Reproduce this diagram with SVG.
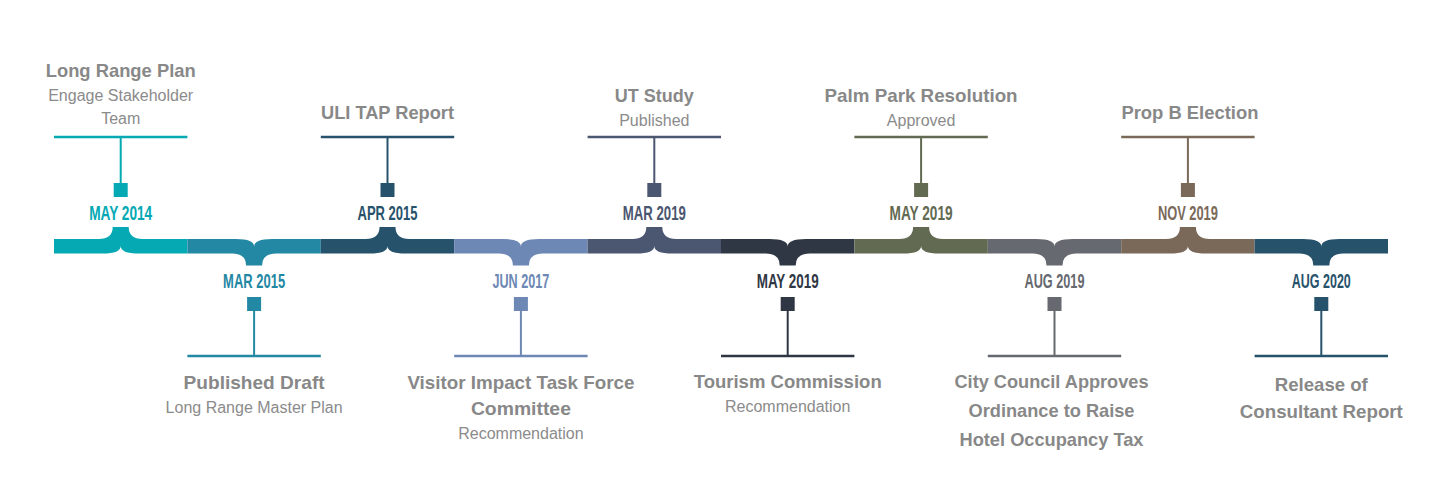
<svg xmlns="http://www.w3.org/2000/svg" xmlns:xlink="http://www.w3.org/1999/xlink" width="1442" height="497" viewBox="0 0 1442 497">
<style>
.t{font-family:"Liberation Sans",Arial,sans-serif;font-weight:bold;font-size:19px;fill:#888;text-anchor:middle}
.s{font-family:"Liberation Sans",Arial,sans-serif;font-size:16px;fill:#8b8b8b;text-anchor:middle}
.d{font-family:"Liberation Sans",Arial,sans-serif;font-weight:bold;font-size:21px;text-anchor:middle}
.h{stroke-width:2.5;fill:none}
.v{stroke-width:2;fill:none}
</style>
<defs>
<path id="up" d="M0 239 H44.7 Q58.7 239 58.7 227 H74.7 Q74.7 239 88.7 239 H133.4 V253.5 H84.7 Q66.7 253.5 66.7 246 Q66.7 253.5 48.7 253.5 H0 Z"/>
<path id="dn" d="M0 239 H48.7 Q66.7 239 66.7 246.5 Q66.7 239 84.7 239 H133.4 V253.5 H88.7 Q74.7 253.5 74.7 265.5 H58.7 Q58.7 253.5 44.7 253.5 H0 Z"/>
</defs>
<rect width="1442" height="497" fill="#fff"/>
<g id="connectors">
<use xlink:href="#up" href="#up" x="54" fill="#04a9b4"/>
<use xlink:href="#dn" href="#dn" x="187.4" fill="#2388a3"/>
<use xlink:href="#up" href="#up" x="320.8" fill="#27526b"/>
<use xlink:href="#dn" href="#dn" x="454.2" fill="#6d88b5"/>
<use xlink:href="#up" href="#up" x="587.6" fill="#4b5670"/>
<use xlink:href="#dn" href="#dn" x="721" fill="#2f3744"/>
<use xlink:href="#up" href="#up" x="854.4" fill="#636a52"/>
<use xlink:href="#dn" href="#dn" x="987.8" fill="#66696f"/>
<use xlink:href="#up" href="#up" x="1121.2" fill="#7a6959"/>
<use xlink:href="#dn" href="#dn" x="1254.6" fill="#27526b"/>
</g>
<g id="n1" transform="translate(120.7 0)">
<line class="h" x1="-66.7" y1="137" x2="66.7" y2="137" stroke="#04a9b4"/>
<line class="v" x1="0" y1="137" x2="0" y2="184" stroke="#04a9b4"/>
<rect x="-7" y="183" width="14" height="14" fill="#04a9b4"/>
<text class="d" x="0" y="220" fill="#04a9b4" textLength="63" lengthAdjust="spacingAndGlyphs">MAY 2014</text>
<text class="t" x="0" y="77" textLength="150" lengthAdjust="spacingAndGlyphs">Long Range Plan</text>
<text class="s" x="0" y="101">Engage Stakeholder</text>
<text class="s" x="0" y="124">Team</text>
</g>
<g id="n2" transform="translate(254.1 0)">
<line class="h" x1="-66.7" y1="356" x2="66.7" y2="356" stroke="#2388a3"/>
<line class="v" x1="0" y1="310" x2="0" y2="356" stroke="#2388a3"/>
<rect x="-7" y="297" width="14" height="14" fill="#2388a3"/>
<text class="d" x="0" y="288" fill="#2388a3" textLength="62" lengthAdjust="spacingAndGlyphs">MAR 2015</text>
<text class="t" x="0" y="389" textLength="141" lengthAdjust="spacingAndGlyphs">Published Draft</text>
<text class="s" x="0" y="413">Long Range Master Plan</text>
</g>
<g id="n3" transform="translate(387.5 0)">
<line class="h" x1="-66.7" y1="137" x2="66.7" y2="137" stroke="#27526b"/>
<line class="v" x1="0" y1="137" x2="0" y2="184" stroke="#27526b"/>
<rect x="-7" y="183" width="14" height="14" fill="#27526b"/>
<text class="d" x="0" y="220" fill="#27526b" textLength="60" lengthAdjust="spacingAndGlyphs">APR 2015</text>
<text class="t" x="0" y="119" textLength="133" lengthAdjust="spacingAndGlyphs">ULI TAP Report</text>
</g>
<g id="n4" transform="translate(520.9 0)">
<line class="h" x1="-66.7" y1="356" x2="66.7" y2="356" stroke="#6d88b5"/>
<line class="v" x1="0" y1="310" x2="0" y2="356" stroke="#6d88b5"/>
<rect x="-7" y="297" width="14" height="14" fill="#6d88b5"/>
<text class="d" x="0" y="288" fill="#6d88b5" textLength="57" lengthAdjust="spacingAndGlyphs">JUN 2017</text>
<text class="t" x="0" y="389" textLength="227" lengthAdjust="spacingAndGlyphs">Visitor Impact Task Force</text>
<text class="t" x="0" y="415" textLength="100" lengthAdjust="spacingAndGlyphs">Committee</text>
<text class="s" x="0" y="439">Recommendation</text>
</g>
<g id="n5" transform="translate(654.3 0)">
<line class="h" x1="-66.7" y1="137" x2="66.7" y2="137" stroke="#4b5670"/>
<line class="v" x1="0" y1="137" x2="0" y2="184" stroke="#4b5670"/>
<rect x="-7" y="183" width="14" height="14" fill="#4b5670"/>
<text class="d" x="0" y="220" fill="#4b5670" textLength="63" lengthAdjust="spacingAndGlyphs">MAR 2019</text>
<text class="t" x="0" y="102" textLength="79" lengthAdjust="spacingAndGlyphs">UT Study</text>
<text class="s" x="0" y="126">Published</text>
</g>
<g id="n6" transform="translate(787.7 0)">
<line class="h" x1="-66.7" y1="356" x2="66.7" y2="356" stroke="#2f3744"/>
<line class="v" x1="0" y1="310" x2="0" y2="356" stroke="#2f3744"/>
<rect x="-7" y="297" width="14" height="14" fill="#2f3744"/>
<text class="d" x="0" y="288" fill="#2f3744" textLength="62" lengthAdjust="spacingAndGlyphs">MAY 2019</text>
<text class="t" x="0" y="388" textLength="188" lengthAdjust="spacingAndGlyphs">Tourism Commission</text>
<text class="s" x="0" y="412">Recommendation</text>
</g>
<g id="n7" transform="translate(921.1 0)">
<line class="h" x1="-66.7" y1="137" x2="66.7" y2="137" stroke="#636a52"/>
<line class="v" x1="0" y1="137" x2="0" y2="184" stroke="#636a52"/>
<rect x="-7" y="183" width="14" height="14" fill="#636a52"/>
<text class="d" x="0" y="220" fill="#636a52" textLength="63" lengthAdjust="spacingAndGlyphs">MAY 2019</text>
<text class="t" x="0" y="102" textLength="193" lengthAdjust="spacingAndGlyphs">Palm Park Resolution</text>
<text class="s" x="0" y="126">Approved</text>
</g>
<g id="n8" transform="translate(1054.5 0)">
<line class="h" x1="-66.7" y1="356" x2="66.7" y2="356" stroke="#66696f"/>
<line class="v" x1="0" y1="310" x2="0" y2="356" stroke="#66696f"/>
<rect x="-7" y="297" width="14" height="14" fill="#66696f"/>
<text class="d" x="0" y="288" fill="#66696f" textLength="60" lengthAdjust="spacingAndGlyphs">AUG 2019</text>
<text class="t" x="-3" y="388" textLength="194" lengthAdjust="spacingAndGlyphs">City Council Approves</text>
<text class="t" x="-3" y="417" textLength="166" lengthAdjust="spacingAndGlyphs">Ordinance to Raise</text>
<text class="t" x="-3" y="446" textLength="184" lengthAdjust="spacingAndGlyphs">Hotel Occupancy Tax</text>
</g>
<g id="n9" transform="translate(1187.9 0)">
<line class="h" x1="-66.7" y1="137" x2="66.7" y2="137" stroke="#7a6959"/>
<line class="v" x1="0" y1="137" x2="0" y2="184" stroke="#7a6959"/>
<rect x="-7" y="183" width="14" height="14" fill="#7a6959"/>
<text class="d" x="0" y="220" fill="#7a6959" textLength="60" lengthAdjust="spacingAndGlyphs">NOV 2019</text>
<text class="t" x="2" y="119" textLength="137" lengthAdjust="spacingAndGlyphs">Prop B Election</text>
</g>
<g id="n10" transform="translate(1321.3 0)">
<line class="h" x1="-66.7" y1="356" x2="66.7" y2="356" stroke="#27526b"/>
<line class="v" x1="0" y1="310" x2="0" y2="356" stroke="#27526b"/>
<rect x="-7" y="297" width="14" height="14" fill="#27526b"/>
<text class="d" x="0" y="288" fill="#27526b" textLength="59" lengthAdjust="spacingAndGlyphs">AUG 2020</text>
<text class="t" x="0" y="391" textLength="93" lengthAdjust="spacingAndGlyphs">Release of</text>
<text class="t" x="0" y="418" textLength="163" lengthAdjust="spacingAndGlyphs">Consultant Report</text>
</g>
</svg>
